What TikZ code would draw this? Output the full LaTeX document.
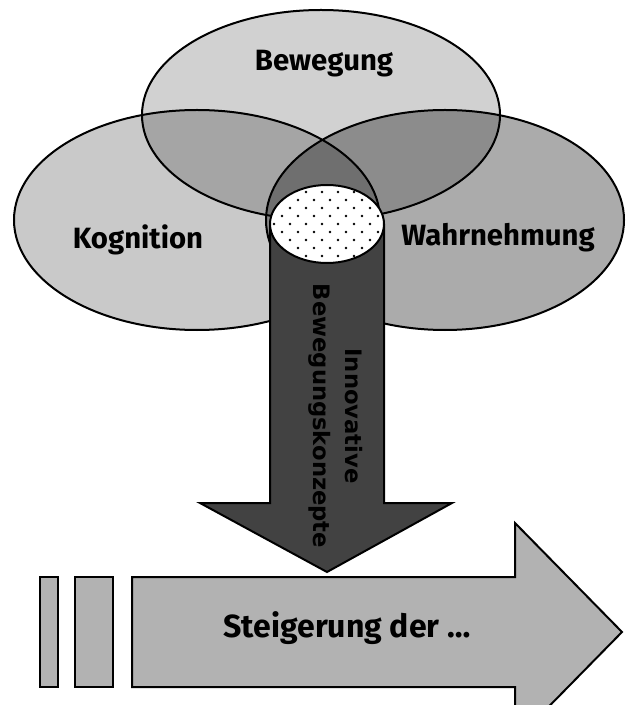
\documentclass[tikz,border=0pt]{standalone}
\usepackage{fontspec}
\newfontfamily\comicfont{Fira Sans}
\newfontfamily\arrowfont{DejaVu Sans}
\usetikzlibrary{positioning}

\begin{document}
\begin{tikzpicture}[x=0.75pt,y=-0.75pt,
	ring/.style={draw=black,line width=1.5pt},
	lbl/.style={font=\comicfont\bfseries\fontsize{22}{26}\selectfont,inner sep=0},
	boxfill/.style={fill=black!30,draw=black,line width=1.5pt,line join=miter}]
	\useasboundingbox (0,0) rectangle (627,705);
	\clip (0,0) rectangle (627,705);
	\fill[black,fill opacity=0.18] (321,115) ellipse [x radius=179,y radius=105];
	\fill[black,fill opacity=0.21] (197,220) ellipse [x radius=183,y radius=110];
	\fill[black,fill opacity=0.33] (445,220) ellipse [x radius=179,y radius=110];
	\draw[ring] (321,115) ellipse [x radius=179,y radius=105];
	\draw[ring] (197,220) ellipse [x radius=183,y radius=110];
	\draw[ring] (445,220) ellipse [x radius=179,y radius=110];
	\node[lbl] (bew) at (324,64) {Bewegung};
	\node[lbl] (kog) at (138,240) {Kognition};
	\node[lbl] (wahr) at (498,238) {Wahrnehmung};
	\filldraw[fill=black!74,draw=black,line width=1.5pt] (270,224) -- (270,503) -- (200,503) -- (327,572) -- (452,503) -- (384,503) -- (384,224);
	\node[font=\arrowfont\bfseries\fontsize{17}{24}\selectfont,align=center,rotate=-90,inner sep=0] (inno) at (336,416) {Innovative\\Bewegungskonzepte};
	\fill[white] (327,224) ellipse [x radius=57,y radius=39];
	\begin{scope}
		\clip (327,224) ellipse [x radius=57,y radius=39];
		\foreach \i [evaluate=\i as \dx using {mod(\i,2)*8}] in {0,...,11}
			\foreach \j in {0,...,8}
				\fill (266+\j*16+\dx,184+\i*8) circle (1.4);
	\end{scope}
	\draw[ring] (327,224) ellipse [x radius=57,y radius=39];
	\filldraw[boxfill] (40,577) rectangle (58,687);
	\filldraw[boxfill] (75,577) rectangle (113,687);
	\filldraw[boxfill] (132,577) -- (515,577) -- (515,523) -- (622,632) -- (515,741) -- (515,687) -- (132,687) -- cycle;
	\node[lbl,font=\comicfont\bfseries\fontsize{24}{28}\selectfont] (steig) at (347,628) {Steigerung der \dots};
\end{tikzpicture}
\end{document}
